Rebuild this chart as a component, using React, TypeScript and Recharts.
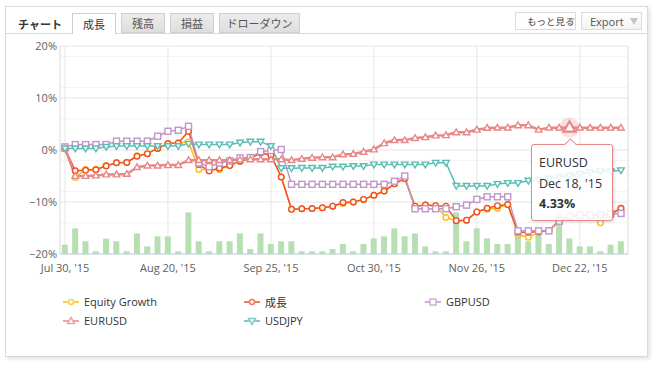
import React from "react";
import { Bar, CartesianGrid, ComposedChart, Line, Tooltip, XAxis, YAxis } from "recharts";

// trade dates (category per point)
const dates = [
  "Jul 30, '15", "Aug 3, '15", "Aug 4, '15", "Aug 6, '15", "Aug 7, '15",
  "Aug 10, '15", "Aug 12, '15", "Aug 13, '15", "Aug 17, '15", "Aug 19, '15",
  "Aug 20, '15", "Aug 24, '15", "Aug 27, '15", "Aug 31, '15", "Sep 2, '15",
  "Sep 7, '15", "Sep 10, '15", "Sep 15, '15", "Sep 18, '15", "Sep 22, '15",
  "Sep 25, '15", "Sep 29, '15", "Oct 2, '15", "Oct 6, '15", "Oct 8, '15",
  "Oct 12, '15", "Oct 15, '15", "Oct 19, '15", "Oct 22, '15", "Oct 27, '15",
  "Oct 30, '15", "Nov 3, '15", "Nov 5, '15", "Nov 9, '15", "Nov 11, '15",
  "Nov 13, '15", "Nov 16, '15", "Nov 18, '15", "Nov 20, '15", "Nov 24, '15",
  "Nov 26, '15", "Nov 30, '15", "Dec 2, '15", "Dec 4, '15", "Dec 7, '15",
  "Dec 9, '15", "Dec 11, '15", "Dec 14, '15", "Dec 16, '15", "Dec 18, '15",
  "Dec 22, '15", "Dec 23, '15", "Dec 28, '15", "Dec 29, '15", "Dec 30, '15",
];

const xTicks = [0, 10, 20, 30, 40, 50];
const yTicks = [-20, -10, 0, 10, 20];
const yMinorTicks = [-18, -16, -14, -12, -8, -6, -4, -2, 2, 4, 6, 8, 12, 14, 16, 18];

const equityGrowth = [
  0.3, -5.3, -3.75, -3.7, -3.0, -2.4, -2.35, -1.1, -0.7, 0.3,
  1.25, 1.35, 1.55, -3.75, -3.75, -3.75, -3.0, -2.15, -1.6, -0.4,
  -1.0, -5.2, -11.4, -11.3, -11.25, -11.1, -10.8, -10.3, -10.0, -9.5,
  -8.7, -7.9, -6.5, -5.5, -10.8, -10.6, -10.7, -13.0, -13.6, -13.5,
  -11.9, -11.4, -11.2, -10.5, -16.3, -16.8, -15.8, -15.5, -13.6, -12.8,
  -12.6, -12.5, -14.0, -12.3, -11.2,
];
const seicho = [
  0.3, -4.0, -3.9, -3.8, -3.1, -2.45, -2.4, -1.2, -0.7, 0.3,
  1.25, 1.35, 3.6, -2.8, -4.05, -3.5, -3.0, -2.15, -1.6, -0.6,
  -1.0, -5.2, -11.4, -11.3, -11.25, -11.1, -10.8, -10.1, -10.0, -9.5,
  -8.7, -7.9, -6.5, -5.5, -10.8, -10.6, -10.7, -10.8, -13.6, -13.5,
  -11.9, -11.2, -10.7, -10.5, -15.8, -15.8, -15.7, -15.5, -13.6, -12.8,
  -12.6, -12.5, -12.5, -12.3, -11.2,
];
const gbpusd = [
  0.6, 1.05, 1.05, 1.05, 1.05, 1.7, 1.7, 1.7, 1.7, 2.65,
  3.6, 3.8, 4.56, -2.5, -3.2, -2.5, -2.1, -1.5, -1.45, -0.3,
  -0.1, 0.1, -6.6, -6.6, -6.6, -6.6, -6.6, -6.6, -6.6, -6.6,
  -6.6, -6.6, -6.0, -5.0, -11.3, -11.3, -11.3, -11.3, -10.9, -10.6,
  -9.5, -9.0, -9.0, -9.0, -15.55, -15.55, -15.55, -15.55, -13.7, -12.7,
  -12.5, -12.5, -12.4, -12.3, -12.2,
];
const eurusd = [
  0.3, -5.0, -5.0, -4.9, -4.7, -4.7, -4.6, -3.3, -3.0, -3.0,
  -2.9, -2.9, -1.95, -1.95, -1.95, -1.95, -1.95, -1.85, -1.8, -1.8,
  -1.8, -1.8, -1.95, -1.7, -1.5, -1.4, -1.4, -0.85, -0.75, -0.35,
  0.1, 1.3, 1.9, 1.9, 2.3, 2.45, 2.8, 2.85, 3.4, 3.4,
  3.9, 4.25, 4.3, 4.3, 4.75, 4.75, 3.9, 4.3, 4.3, 4.33,
  4.3, 4.3, 4.3, 4.3, 4.3,
];
const usdjpy = [
  0.3, 0.3, 0.3, 0.3, 0.6, 0.75, 0.75, 0.75, 0.75, 0.75,
  0.75, 0.75, 1.2, 1.05, 1.05, 1.05, 1.05, 1.4, 1.6, 1.6,
  0.75, -3.5, -3.5, -3.45, -3.45, -3.45, -3.2, -3.2, -3.1, -3.1,
  -2.8, -2.8, -2.8, -2.8, -2.8, -2.8, -2.45, -2.45, -6.9, -6.9,
  -6.9, -6.9, -6.55, -6.35, -6.35, -5.9, -5.7, -5.5, -5.2, -4.9,
  -4.6, -4.3, -4.1, -4.1, -3.9,
];
const volume = [
  4.5, 12.3, 6.1, 1.3, 7.4, 6.1, 1.3, 9.9, 3.7, 8.5,
  8.5, 1.3, 20.0, 6.1, 1.3, 6.1, 6.1, 9.9, 2.4, 9.9,
  4.8, 6.1, 6.1, 1.3, 1.3, 1.3, 2.4, 4.8, 1.3, 4.8,
  7.5, 8.5, 12.3, 8.5, 9.9, 3.7, 1.3, 1.3, 20.0, 6.1,
  12.3, 7.5, 4.8, 4.8, 8.8, 6.1, 9.9, 4.8, 19.9, 7.5,
  3.7, 3.7, 1.3, 4.5, 6.1,
];

const C_EG = "#fdbf16";
const C_SEICHO = "#f04e23";
const C_GBP = "#c095c8";
const C_EUR = "#e88787";
const C_JPY = "#5bbdb5";
const C_VOL = "#b7e0b2";

const FONT = "'Open Sans', 'Noto Sans CJK JP', sans-serif";
const JP = "'Noto Sans CJK JP', 'Open Sans', sans-serif";

const data = dates.map((date, i) => ({
  i,
  date,
  eg: equityGrowth[i],
  seicho: seicho[i],
  gbp: gbpusd[i],
  eur: eurusd[i],
  jpy: usdjpy[i],
  vol: volume[i],
}));

const circleDot = (color: string) => (p: any) => (
  <circle key={`c${p.index}`} cx={p.cx} cy={p.cy} r={2.8} fill="#fff" stroke={color} strokeWidth={1.4} />
);
const squareDot = (color: string) => (p: any) => (
  <rect key={`s${p.index}`} x={p.cx - 3} y={p.cy - 3} width={6} height={6} fill="#fff" stroke={color} strokeWidth={1.4} />
);
const upDot = (color: string) => (p: any) => (
  <polygon
    key={`u${p.index}`}
    points={`${p.cx},${p.cy - 3.3} ${p.cx + 3.3},${p.cy + 2.4} ${p.cx - 3.3},${p.cy + 2.4}`}
    fill="#fff"
    stroke={color}
    strokeWidth={1.4}
  />
);
const downDot = (color: string) => (p: any) => (
  <polygon
    key={`d${p.index}`}
    points={`${p.cx - 3.3},${p.cy - 2.4} ${p.cx + 3.3},${p.cy - 2.4} ${p.cx},${p.cy + 3.3}`}
    fill="#fff"
    stroke={color}
    strokeWidth={1.4}
  />
);

function EurActive(p: any) {
  const s = 6;
  return (
    <g>
      <circle cx={p.cx} cy={p.cy} r={10} fill={C_EUR} fillOpacity={0.25} />
      <polygon
        points={`${p.cx},${p.cy - s} ${p.cx + s},${p.cy + s * 0.7} ${p.cx - s},${p.cy + s * 0.7}`}
        fill="#fff"
        stroke={C_EUR}
        strokeWidth={2.2}
      />
    </g>
  );
}

function ChartTooltip({ active, payload }: any) {
  if (!active || !payload?.length) return null;
  const item = payload.find((x: any) => x.dataKey === "eur");
  if (!item) return null;
  const row = item.payload;
  return (
    <div
      style={{
        position: "relative",
        width: 82,
        height: 77,
        boxSizing: "border-box",
        background: "rgba(255,255,255,0.85)",
        border: `1px solid ${C_EUR}`,
        borderRadius: 3,
        padding: "8px 0 0 7px",
        boxShadow: "1px 1px 3px rgba(0,0,0,0.15)",
        fontFamily: FONT,
        fontSize: 12.5,
        lineHeight: "20.5px",
        color: "#333",
        whiteSpace: "nowrap",
      }}
    >
      <div
        style={{
          position: "absolute",
          left: 34,
          top: -5,
          width: 8,
          height: 8,
          background: "#fff",
          borderTop: `1px solid ${C_EUR}`,
          borderLeft: `1px solid ${C_EUR}`,
          transform: "rotate(45deg)",
        }}
      />
      <div>EURUSD</div>
      <div>{row.date}</div>
      <div style={{ fontWeight: 700 }}>{row.eur.toFixed(2)}%</div>
    </div>
  );
}

const legendItems = [
  { name: "Equity Growth", color: C_EG, shape: "circle" },
  { name: "成長", color: C_SEICHO, shape: "circle" },
  { name: "GBPUSD", color: C_GBP, shape: "square" },
  { name: "EURUSD", color: C_EUR, shape: "up" },
  { name: "USDJPY", color: C_JPY, shape: "down" },
];

function LegendSymbol({ color, shape }: { color: string; shape: string }) {
  return (
    <svg width={16} height={10} style={{ display: "block", opacity: 0.75 }}>
      <line x1={0} x2={16} y1={5} y2={5} stroke={color} strokeWidth={2} />
      {shape === "circle" && <circle cx={8} cy={5} r={2.5} fill="#fff" stroke={color} strokeWidth={1.5} />}
      {shape === "square" && <rect x={5} y={2} width={6} height={6} fill="#fff" stroke={color} strokeWidth={1.5} />}
      {shape === "up" && <polygon points="8,1.5 11.5,7.5 4.5,7.5" fill="#fff" stroke={color} strokeWidth={1.5} />}
      {shape === "down" && <polygon points="4.5,2.5 11.5,2.5 8,8.5" fill="#fff" stroke={color} strokeWidth={1.5} />}
    </svg>
  );
}

const tabBase: React.CSSProperties = {
  position: "absolute",
  top: 13,
  height: 20,
  boxSizing: "border-box",
  border: "1px solid #cfcfcf",
  background: "linear-gradient(#ececec, #dedede)",
  fontFamily: JP,
  fontSize: 11,
  color: "#555",
  display: "flex",
  alignItems: "center",
  justifyContent: "center",
};

const fmtPct = (v: number) => (v < 0 ? `\u2212${Math.abs(v)}%` : `${v}%`);

export default function App() {
  return (
    <div style={{ position: "absolute", left: 0, top: 0, width: 659, height: 368, background: "#fff", fontFamily: FONT }}>
      <div
        style={{
          position: "absolute",
          left: 5,
          top: 6,
          width: 643,
          height: 351,
          boxSizing: "border-box",
          border: "1px solid #dadada",
          background: "#fff",
          boxShadow: "2px 2px 4px rgba(0,0,0,0.12)",
        }}
      />
      <div style={{ position: "absolute", left: 5, top: 33, width: 643, height: 1, background: "#d9d9d9" }} />
      <div style={{ position: "absolute", left: 18, top: 16, fontFamily: JP, fontSize: 11, fontWeight: 700, color: "#333" }}>
        チャート
      </div>
      <div style={{ ...tabBase, left: 72, width: 44, height: 21, background: "#fff", borderBottom: "none", color: "#333" }}>成長</div>
      <div style={{ ...tabBase, left: 121, width: 44 }}>残高</div>
      <div style={{ ...tabBase, left: 170, width: 44 }}>損益</div>
      <div style={{ ...tabBase, left: 219, width: 81 }}>ドローダウン</div>

      <div
        style={{
          position: "absolute",
          left: 515,
          top: 12,
          width: 61,
          height: 18,
          boxSizing: "border-box",
          border: "1px solid #dcdcdc",
          background: "#fff",
          fontFamily: JP,
          fontSize: 9.5,
          color: "#444",
          display: "flex",
          alignItems: "center",
          paddingLeft: 11,
          whiteSpace: "nowrap",
        }}
      >
        もっと見る
        <svg width={7} height={6} style={{ position: "absolute", left: 52, top: 5, opacity: 0.5 }}>
          <polygon points="0,0 7,0 3.5,6" fill="#999" />
        </svg>
      </div>
      <div
        style={{
          position: "absolute",
          left: 581,
          top: 12,
          width: 61,
          height: 18,
          boxSizing: "border-box",
          border: "1px solid #dcdcdc",
          background: "linear-gradient(#fff, #f3f3f3)",
          fontSize: 11,
          color: "#555",
          display: "flex",
          alignItems: "center",
          paddingLeft: 8,
        }}
      >
        Export
        <svg width={8} height={7} style={{ position: "absolute", left: 48, top: 5 }}>
          <polygon points="0,0 8,0 4,7" fill="#c4c4c4" />
        </svg>
      </div>

      <div style={{ position: "absolute", left: 0, top: 0 }}>
        <ComposedChart width={659} height={290} data={data} margin={{ top: 46, right: 31, bottom: 16, left: 0 }}>
          <CartesianGrid vertical={false} horizontalValues={yMinorTicks} stroke="#f3f3f3" />
          <CartesianGrid stroke="#e6e6e6" />
          <CartesianGrid
            horizontal={false}
            stroke="#e6e6e6"
            verticalCoordinatesGenerator={({ offset }: any) => (offset ? [offset.left, offset.left + offset.width] : [])}
          />
          <XAxis
            dataKey="i"
            type="number"
            domain={["dataMin", "dataMax"]}
            ticks={xTicks}
            interval={0}
            tickFormatter={(v: number) => dates[v]}
            padding={{ left: 5, right: 7 }}
            axisLine={{ stroke: "#c0d0e0" }}
            tickLine={false}
            tickSize={0}
            tickMargin={10}
            height={20}
            tick={{ fill: "#606060", fontSize: 11, fontFamily: FONT }}
          />
          <YAxis
            domain={[-20, 20]}
            ticks={yTicks}
            tickFormatter={fmtPct}
            axisLine={false}
            tickLine={false}
            tickSize={0}
            tickMargin={3}
            width={60}
            tick={{ fill: "#606060", fontSize: 11, fontFamily: FONT }}
          />
          <YAxis yAxisId="vol" domain={[0, 100]} hide />
          <Bar yAxisId="vol" dataKey="vol" fill={C_VOL} barSize={6} isAnimationActive={false} />
          <Line
            dataKey="eg"
            stroke={C_EG}
            strokeWidth={1.5}
            dot={circleDot(C_EG)}
            activeDot={false}
            isAnimationActive={false}
          />
          <Line
            dataKey="seicho"
            stroke={C_SEICHO}
            strokeWidth={1.5}
            dot={circleDot(C_SEICHO)}
            activeDot={false}
            isAnimationActive={false}
          />
          <Line
            dataKey="gbp"
            stroke={C_GBP}
            strokeWidth={1.5}
            dot={squareDot(C_GBP)}
            activeDot={false}
            isAnimationActive={false}
          />
          <Line
            dataKey="eur"
            stroke={C_EUR}
            strokeWidth={2.5}
            dot={upDot(C_EUR)}
            activeDot={(p: any) => <EurActive {...p} />}
            isAnimationActive={false}
          />
          <Line
            dataKey="jpy"
            stroke={C_JPY}
            strokeWidth={1.5}
            dot={downDot(C_JPY)}
            activeDot={false}
            isAnimationActive={false}
          />
          <Tooltip
            defaultIndex={49}
            content={<ChartTooltip />}
            cursor={false}
            position={{ x: 531, y: 144 }}
            isAnimationActive={false}
            wrapperStyle={{ outline: "none" }}
          />
        </ComposedChart>
      </div>

      <div
        style={{
          position: "absolute",
          left: 63,
          top: 292,
          display: "grid",
          gridTemplateColumns: "181px 181px 120px",
          gridAutoRows: "19px",
          fontSize: 11,
          color: "#333",
        }}
      >
        {legendItems.map((it) => (
          <div key={it.name} style={{ display: "flex", alignItems: "center", gap: 5, fontFamily: it.name === "成長" ? JP : FONT }}>
            <LegendSymbol color={it.color} shape={it.shape} />
            <span>{it.name}</span>
          </div>
        ))}
      </div>
    </div>
  );
}
